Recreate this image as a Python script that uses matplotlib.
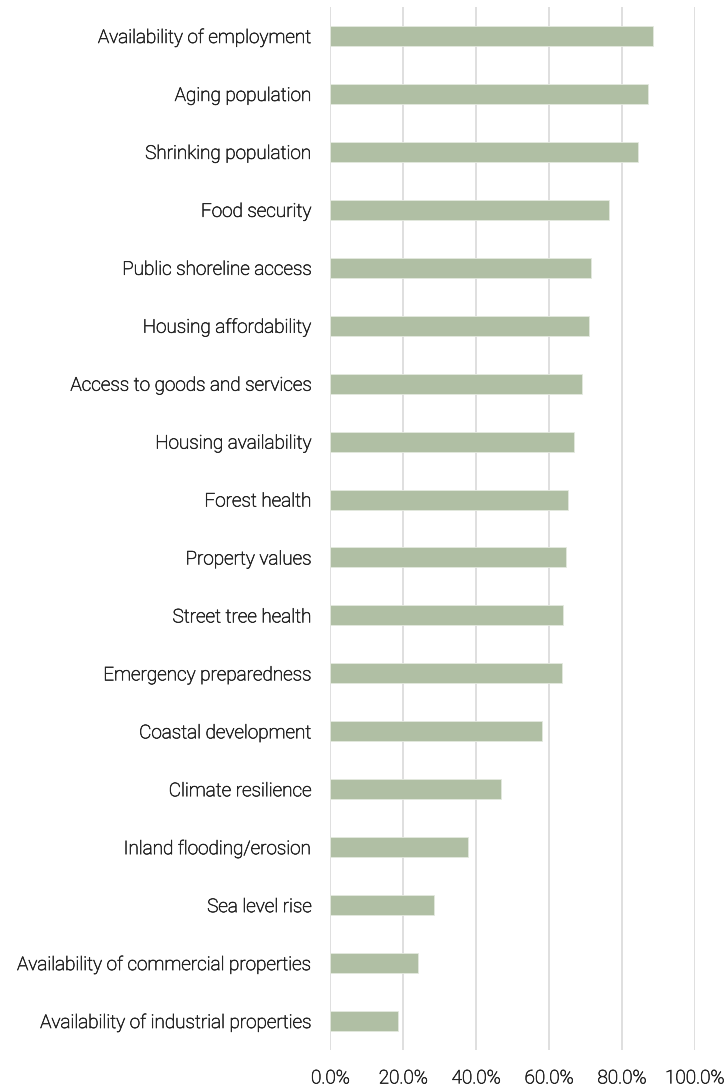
# horizontal bar chart of community concerns, share of respondents
import matplotlib
matplotlib.use('Agg')
import matplotlib.pyplot as plt
import matplotlib.ticker as tck
import matplotlib.patheffects as pe

plt.rcParams['font.family'] = ['Roboto', 'DejaVu Sans']

# categories listed top to bottom
issues = ['Availability of employment', 'Aging population', 'Shrinking population',
          'Food security', 'Public shoreline access', 'Housing affordability',
          'Access to goods and services', 'Housing availability', 'Forest health',
          'Property values', 'Street tree health', 'Emergency preparedness',
          'Coastal development', 'Climate resilience', 'Inland flooding/erosion',
          'Sea level rise', 'Availability of commercial properties',
          'Availability of industrial properties']
shares = [0.886, 0.873, 0.844, 0.766, 0.715, 0.711, 0.690, 0.669, 0.652,
          0.648, 0.638, 0.635, 0.581, 0.468, 0.377, 0.284, 0.242, 0.185]
xticks = [0, 0.2, 0.4, 0.6, 0.8, 1.0]

txt_color = '#262626'
# light weight renders very faint, give it a thin stroke of its own colour
thicken = [pe.withStroke(linewidth=0.45, foreground=txt_color)]

fig = plt.figure(figsize=(7.26, 10.87), dpi=100)
ax = fig.add_axes([330.3/726, 1 - 1050/1087, 364.4/726, 1043/1087])

pos = list(range(len(issues)))
ax.barh(pos, shares, height=0.345, color='#b0bfa4', edgecolor='#e4e9df',
        linewidth=0.6, zorder=3)

ax.set_ylim(len(issues) - 0.5, -0.5)
ax.set_yticks(pos)
ax.set_yticklabels(issues, fontsize=13.6, fontweight='light', color=txt_color)
ax.set_xlim(0, 1.0)
ax.set_xticks(xticks)
ax.xaxis.set_major_formatter(tck.PercentFormatter(1.0, decimals=1))
for lab in ax.get_xticklabels():
    lab.set_fontsize(13.6)
    lab.set_fontweight('light')
    lab.set_color(txt_color)
for lab in ax.get_xticklabels() + ax.get_yticklabels():
    lab.set_path_effects(thicken)

ax.tick_params(axis='both', length=0)
ax.tick_params(axis='y', pad=13.5)
ax.tick_params(axis='x', pad=14)
ax.grid(axis='x', color='#d9d9d9', linewidth=1.2, zorder=0)
for s in ax.spines.values():
    s.set_visible(False)

fig.savefig('out.png', dpi=100)
